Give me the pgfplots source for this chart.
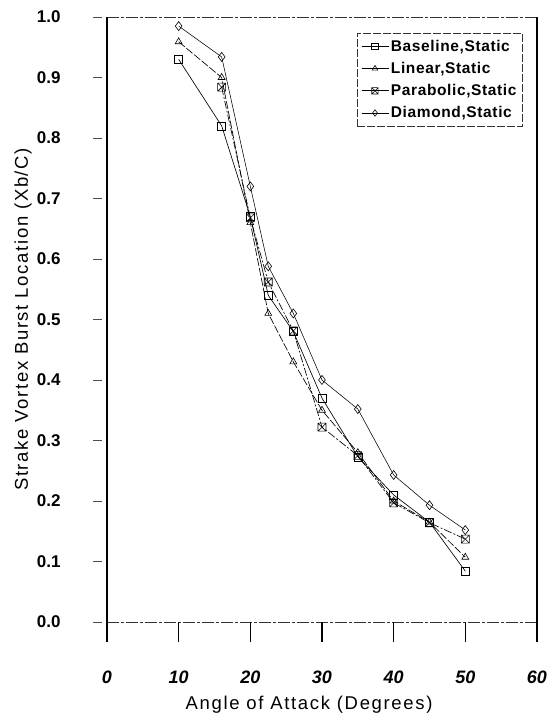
\documentclass[border=0pt]{standalone}
\usepackage{fontspec}
\setmainfont{Liberation Sans}
\usepackage{pgfplots}
\pgfplotsset{compat=1.18}
\usetikzlibrary{calc}

% open square crossed by both diagonals
\pgfdeclareplotmark{boxx}{%
  \pgfpathrectangle{\pgfpoint{-\pgfplotmarksize}{-\pgfplotmarksize}}%
                   {\pgfpoint{2\pgfplotmarksize}{2\pgfplotmarksize}}%
  \pgfpathmoveto{\pgfpoint{-\pgfplotmarksize}{-\pgfplotmarksize}}%
  \pgfpathlineto{\pgfpoint{\pgfplotmarksize}{\pgfplotmarksize}}%
  \pgfpathmoveto{\pgfpoint{-\pgfplotmarksize}{\pgfplotmarksize}}%
  \pgfpathlineto{\pgfpoint{\pgfplotmarksize}{-\pgfplotmarksize}}%
  \pgfusepathqstroke}

\newcommand{\spaced}{\addfontfeature{LetterSpace=9}}

\begin{document}
\begin{tikzpicture}
\begin{axis}[
  name=ax,
  scale only axis,
  clip=false,
  width=430bp, height=605bp,
  xmin=0, xmax=60, ymin=0, ymax=1,
  xtick={0,10,...,60},
  ytick={0,0.1,...,1.0},
  /pgf/number format/assume math mode=true,
  yticklabel style={/pgf/number format/fixed, /pgf/number format/fixed zerofill,
    /pgf/number format/precision=1},
  tick pos=left,
  tick align=inside,
  major tick length=0pt,
  tick style={draw=none},
  xticklabel shift=45bp,
  yticklabel shift=43bp,
  xticklabel style={font=\fontsize{18bp}{20bp}\selectfont\bfseries\itshape},
  yticklabel style={font=\fontsize{17bp}{20bp}\selectfont\bfseries},
  axis line style={black!75, line width=0.6bp},
  xlabel={Angle of Attack (Degrees)},
  ylabel={Strake Vortex Burst Location (Xb/C)},
  xlabel style={font=\fontsize{18.5bp}{20bp}\selectfont\spaced,
    at={(axis description cs:0.47,-0.137)}, anchor=center},
  ylabel style={font=\fontsize{18.5bp}{20bp}\selectfont\spaced,
    at={(axis description cs:-0.195,0.5)}, anchor=center},
  legend style={
    at={(rel axis cs:0.967,0.974)}, anchor=north east,
    draw=black!80, line width=0.6bp, dash pattern=on 8bp off 2bp,
    font=\fontsize{15.5bp}{18bp}\selectfont\bfseries\addfontfeature{LetterSpace=4},
    inner xsep=4bp, inner ysep=5bp, row sep=5.5bp,
    cells={anchor=west},
  },
  legend image code/.code={%
    \draw[#1, solid] (0cm,0cm) -- (0.95cm,0cm);
    \draw[#1, mark repeat=1, mark size=3.2bp] plot coordinates {(0.47cm,0cm)};
  },
  every axis plot/.append style={black, line width=0.65bp, mark size=4bp,
    mark options={solid, fill=white, line width=0.6bp}},
]

% Baseline, static
\addplot[mark=square] coordinates {
  (10,0.930) (16,0.820) (20,0.670) (22.5,0.540) (26,0.480)
  (30,0.370) (35,0.273) (40,0.210) (45,0.165) (50,0.084)
};
\addlegendentry{Baseline,Static}

% Linear, static
\addplot[mark=triangle, dash pattern=on 8bp off 2bp] coordinates {
  (10,0.959) (16,0.900) (20,0.660) (22.5,0.510) (26,0.430)
  (30,0.350) (35,0.280) (40,0.200) (45,0.165) (50,0.107)
};
\addlegendentry{Linear,Static}

% Parabolic, static
\addplot[mark=boxx, dash pattern=on 8bp off 2bp on 2bp off 2bp] coordinates {
  (16,0.884) (20,0.668) (22.5,0.562) (26,0.481)
  (30,0.322) (35,0.275) (40,0.197) (45,0.164) (50,0.137)
};
\addlegendentry{Parabolic,Static}

% Diamond, static
\addplot[mark=diamond, mark size=4.5bp, line width=0.55bp] coordinates {
  (10,0.985) (16,0.934) (20,0.720) (22.5,0.588) (26,0.510)
  (30,0.400) (35,0.352) (40,0.243) (45,0.193) (50,0.152)
};
\addlegendentry{Diamond,Static}

% frame: broken top and bottom rules, solid sides
\draw[white, line width=1.2bp] (rel axis cs:0,1) -- (rel axis cs:1,1);
\draw[white, line width=1.2bp] (rel axis cs:0,0) -- (rel axis cs:1,0);
\draw[black!80, line width=0.7bp, dash pattern=on 12bp off 2bp on 3bp off 2bp]
  (rel axis cs:0,1) -- (rel axis cs:1,1);
\draw[black!80, line width=0.7bp, dash pattern=on 12bp off 2bp on 3bp off 2bp]
  (rel axis cs:0,0) -- (rel axis cs:1,0);
\draw[black, line width=1.3bp] (rel axis cs:0,1) -- (rel axis cs:0,0) -- ++(0,-20bp);
\draw[black, line width=1.1bp] (rel axis cs:1,1) -- (rel axis cs:1,0) -- ++(0,-20bp);
% downward ticks on the angle axis
\draw[black, line width=1.1bp]
  (axis cs:10,0) -- ++(0,-20bp)
  (axis cs:20,0) -- ++(0,-20bp)
  (axis cs:30,0) -- ++(0,-20bp)
  (axis cs:40,0) -- ++(0,-20bp)
  (axis cs:50,0) -- ++(0,-20bp);
% short detached ticks on the location axis
\draw[black!70, line width=0.8bp]
  (axis cs:0,0)   ++(-14bp,0) -- ++(9bp,0)
  (axis cs:0,0.1) ++(-14bp,0) -- ++(9bp,0)
  (axis cs:0,0.2) ++(-14bp,0) -- ++(9bp,0)
  (axis cs:0,0.3) ++(-14bp,0) -- ++(9bp,0)
  (axis cs:0,0.4) ++(-14bp,0) -- ++(9bp,0)
  (axis cs:0,0.5) ++(-14bp,0) -- ++(9bp,0)
  (axis cs:0,0.6) ++(-14bp,0) -- ++(9bp,0)
  (axis cs:0,0.7) ++(-14bp,0) -- ++(9bp,0)
  (axis cs:0,0.8) ++(-14bp,0) -- ++(9bp,0)
  (axis cs:0,0.9) ++(-14bp,0) -- ++(9bp,0)
  (axis cs:0,1.0) ++(-14bp,0) -- ++(9bp,0);
\end{axis}
% fixed page margins around the plot area
\path ($(ax.south west)+(-107bp,-105bp)$) rectangle ($(ax.north east)+(10bp,17bp)$);
\end{tikzpicture}
\end{document}
